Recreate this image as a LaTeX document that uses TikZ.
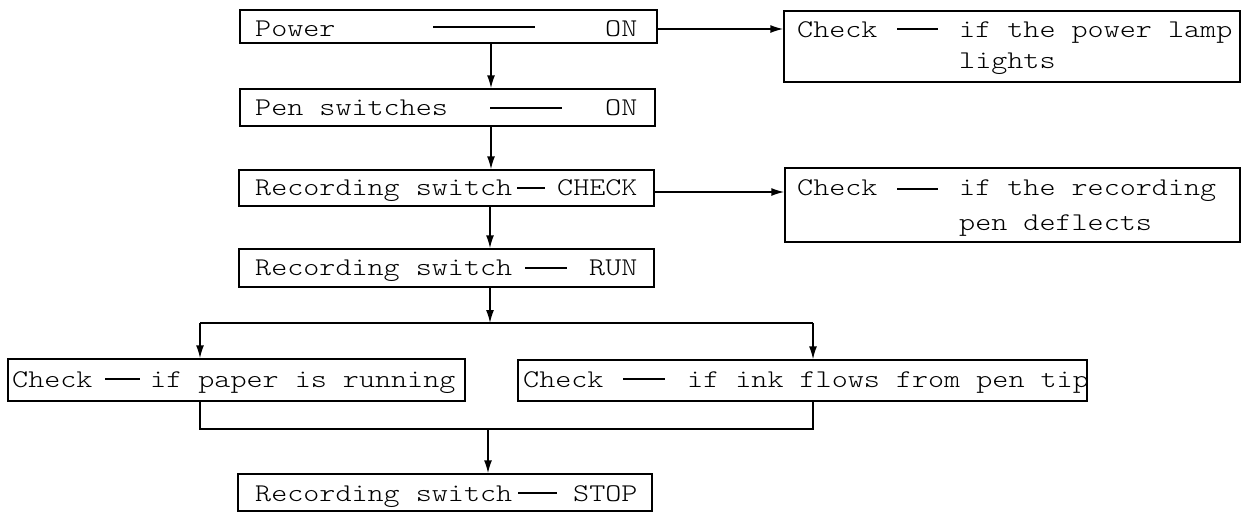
\documentclass[tikz,border=0pt]{standalone}
\usepackage{fontspec}
\newfontfamily\tw[FakeStretch=1.2]{lmmonolt10-regular.otf}
\usetikzlibrary{arrows.meta}
\tikzset{
  box/.style={draw, line width=1.4pt, inner sep=0pt},
  lbl/.style={anchor=base west, inner sep=0pt, font=\tw\fontsize{25.5}{28}\selectfont},
  arr/.style={line width=1.4pt, -{Latex[length=13pt,width=8pt]}},
  ln/.style={line width=1.4pt},
  dsh/.style={line width=1.3pt},
}
\begin{document}
\begin{tikzpicture}[x=1pt,y=-1pt]
\useasboundingbox (0,0) rectangle (1242,514);
% boxes
\node[box, minimum width=417pt, minimum height=33pt] (pw) at (448.5,26.5) {};
\node[box, minimum width=415pt, minimum height=37pt] (pen) at (447.5,107.5) {};
\node[box, minimum width=415pt, minimum height=36pt] (chk) at (446.5,188) {};
\node[box, minimum width=415pt, minimum height=38pt] (run) at (446.5,268) {};
\node[box, minimum width=457pt, minimum height=42pt] (paper) at (236.5,380) {};
\node[box, minimum width=569pt, minimum height=41pt] (ink) at (802.5,380.5) {};
\node[box, minimum width=414pt, minimum height=37pt] (stop) at (445,492.5) {};
\node[box, minimum width=456pt, minimum height=71pt] (lamp) at (1012,46.5) {};
\node[box, minimum width=455pt, minimum height=74pt] (defl) at (1012.5,205) {};
% texts
\node[lbl] (t1a) at (255,36) {Power};
\node[lbl] (t1b) at (605,36) {ON};
\draw[dsh] (433,27) -- (535,27);
\node[lbl] (t2a) at (255,115) {Pen switches};
\node[lbl] (t2b) at (605,115) {ON};
\draw[dsh] (490,108) -- (562,108);
\node[lbl] (t3a) at (255,195) {Recording switch};
\node[lbl] (t3b) at (557,195) {CHECK};
\draw[dsh] (517,188) -- (545,188);
\node[lbl] (t4a) at (255,275) {Recording switch};
\node[lbl] (t4b) at (589,275) {RUN};
\draw[dsh] (525,268) -- (567,268);
\node[lbl] (t5a) at (255,501) {Recording switch};
\node[lbl] (t5b) at (573,501) {STOP};
\draw[dsh] (518,493) -- (557,493);
\node[lbl] (t6a) at (12,387) {Check};
\node[lbl] (t6b) at (150,387) {if paper is running};
\draw[dsh] (105,379) -- (140,379);
\node[lbl] (t7a) at (523,387) {Check};
\node[lbl] (t7b) at (687,387) {if ink flows from pen tip};
\draw[dsh] (623,379) -- (665,379);
\node[lbl] (t8a) at (797,37) {Check};
\node[lbl] (t8b) at (959,37) {if the power lamp};
\node[lbl] (t8c) at (959,68) {lights};
\draw[dsh] (897,29) -- (938,29);
\node[lbl] (t9a) at (797,195) {Check};
\node[lbl] (t9b) at (959,195) {if the recording};
\node[lbl] (t9c) at (959,230) {pen deflects};
\draw[dsh] (897,189) -- (938,189);
% connectors
\coordinate (sp) at (491,0);
\coordinate (fork) at (490,323);
\coordinate (fl) at (200,323);
\coordinate (fr) at (813,323);
\coordinate (jl) at (200,429);
\coordinate (jr) at (813,429);
\coordinate (jm) at (488,429);
\draw[arr] (pw.south -| sp) -- (pen.north -| sp);
\draw[arr] (pen.south -| sp) -- (chk.north -| sp);
\draw[arr] (chk.south -| fork) -- (run.north -| fork);
\draw[arr] (run.south -| fork) -- (fork);
\draw[ln] (fl) -- (fr);
\draw[arr] (fl) -- (paper.north -| fl);
\draw[arr] (fr) -- (ink.north -| fr);
\draw[ln] (paper.south -| jl) -- (jl) -- (jr) -- (ink.south -| jr);
\draw[arr] (jm) -- (stop.north -| jm);
\draw[arr] (pw.east |- 0,29) -- (lamp.west |- 0,29);
\draw[arr] (chk.east |- 0,192) -- (defl.west |- 0,192);
\end{tikzpicture}
\end{document}
